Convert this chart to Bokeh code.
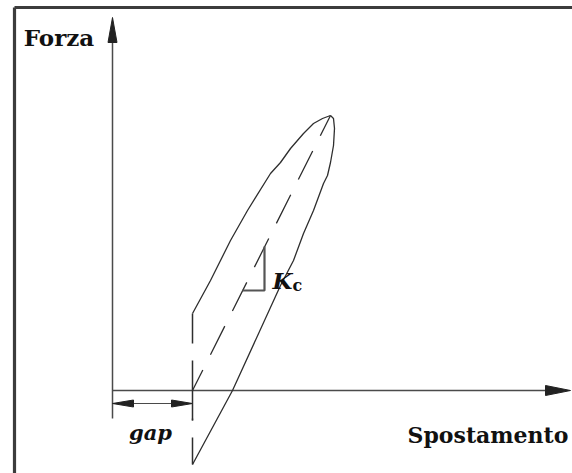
from bokeh.plotting import figure
from bokeh.models import Range1d
from bokeh.embed import file_html
from bokeh.resources import INLINE
from bokeh.core.properties import value

# ---- values (displacement / force, arbitrary units) ----
gap = 80.0                    # displacement at which contact starts
peak_x, peak_y = 218.0, 275.0  # peak point of the loop
x_axis_end, y_axis_end = 458.0, 373.0
ext_low = -28.0               # lower end of the gap extension lines
dim_y = -13.0                 # level of the gap dimension line

loop_up_x = [80, 98, 118, 135, 158, 168, 178, 191, 201, 210, 218]
loop_up_y = [77, 110, 150, 180, 217, 228, 242, 257, 267, 272, 275]
loop_dn_x = [218, 221, 222, 221, 218, 215, 211, 201, 191, 181, 168, 120, 80]
loop_dn_y = [275, 272, 262, 245, 228, 215, 207, 180, 157, 130, 105, 0, -74]

# vertical part of the loop at the gap (drawn in pieces, as in the picture)
gap_seg_y0 = [77, 30, -47]
gap_seg_y1 = [47, -30, -74]

# secant stiffness triangle
tri_x = [130, 152, 152]
tri_y = [100, 100, 144]

labels = ["Forza", "Spostamento", "gap"]

# ---- figure: one data unit = one pixel ----
W, H = 572, 473
x0, y0 = -112, -83
p = figure(width=W, height=H, x_range=Range1d(x0, x0 + W), y_range=Range1d(y0, y0 + H),
           output_backend="svg", toolbar_location=None, min_border=0,
           x_axis_location=None, y_axis_location=None)
p.grid.visible = False
p.outline_line_color = None
p.background_fill_color = "white"
p.border_fill_color = "white"

frame_c = "#3c3c3c"
axis_c = "#4a4a4a"
line_c = "#2e2e2e"

# picture frame (top and left visible)
p.segment(x0=[-98, -98], y0=[y0, 383], x1=[-98, x0 + W], y1=[383, 383],
          line_color=frame_c, line_width=3.2)

# axes
p.segment(x0=[0, 0], y0=[ext_low, 0], x1=[0, x_axis_end - 20], y1=[y_axis_end - 20, 0],
          line_color=axis_c, line_width=1.5)
ah_len, ah_w = 25, 4.5
p.patches(xs=[[-ah_w, 0, ah_w], [x_axis_end - ah_len, x_axis_end, x_axis_end - ah_len]],
          ys=[[y_axis_end - ah_len, y_axis_end, y_axis_end - ah_len], [-5, 0, 5]],
          fill_color="#222222", line_color="#222222", line_width=1)

# gap dimension
p.segment(x0=[gap], y0=[ext_low], x1=[gap], y1=[-30], line_color=axis_c, line_width=1.5)
p.segment(x0=[0], y0=[dim_y], x1=[gap], y1=[dim_y], line_color=axis_c, line_width=1.2)
dl, dw = 21, 3.5
p.patches(xs=[[dl, 0, dl], [gap - dl, gap, gap - dl]],
          ys=[[dim_y - dw, dim_y, dim_y + dw], [dim_y - dw, dim_y, dim_y + dw]],
          fill_color="#222222", line_color="#222222", line_width=1)

# hysteresis loop
p.line(loop_up_x, loop_up_y, line_color=line_c, line_width=1.3, line_join="round")
p.line(loop_dn_x, loop_dn_y, line_color=line_c, line_width=1.3, line_join="round")
p.segment(x0=[gap] * 3, y0=gap_seg_y0, x1=[gap] * 3, y1=gap_seg_y1,
          line_color=line_c, line_width=1.5)

# secant stiffness Kc (dashed)
p.line([gap, peak_x], [0, peak_y], line_color=line_c, line_width=1.3,
       line_dash="32 17", line_dash_offset=9)
p.line(tri_x, tri_y, line_color="#555555", line_width=2.2)

# texts
serif = value("DejaVu Serif")
p.text(x=[-53.5], y=[353], text=[labels[0]], text_font=serif, text_font_style="bold",
       text_font_size="23px", text_align="center", text_baseline="alphabetic", text_color="#111111")
p.text(x=[375.5], y=[-44], text=[labels[1]], text_font=serif, text_font_style="bold",
       text_font_size="22px", text_align="center", text_baseline="alphabetic", text_color="#111111")
p.text(x=[38], y=[-42], text=[labels[2]], text_font=serif, text_font_style="bold italic",
       text_font_size="21px", text_align="center", text_baseline="alphabetic", text_color="#111111")
p.text(x=[160], y=[110], text=["K"], text_font=serif, text_font_style="bold italic",
       text_font_size="23px", text_align="left", text_baseline="alphabetic", text_color="#111111")
p.text(x=[180], y=[105], text=["c"], text_font=serif, text_font_style="bold",
       text_font_size="16px", text_align="left", text_baseline="alphabetic", text_color="#111111")

open("out.html", "w").write(file_html(p, INLINE))
